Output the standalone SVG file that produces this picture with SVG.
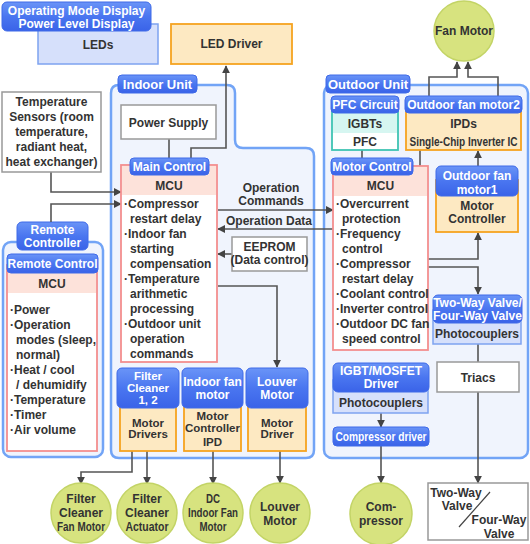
<svg xmlns="http://www.w3.org/2000/svg" width="530" height="544" viewBox="0 0 530 544">
<defs>
<linearGradient id="lg" x1="0" y1="0" x2="0" y2="1">
<stop offset="0" stop-color="#6a94f7"/>
<stop offset="0.5" stop-color="#4a76f0"/>
<stop offset="1" stop-color="#3a63e8"/>
</linearGradient>
<marker id="ah" viewBox="0 0 10 10" refX="9" refY="5" markerWidth="8" markerHeight="8" markerUnits="userSpaceOnUse" orient="auto">
<path d="M0,0 L10,5 L0,10 Z" fill="#444"/>
</marker>
<style>
text{font-family:"Liberation Sans",Arial,sans-serif;font-weight:bold;font-size:12px;fill:#333}
.c{text-anchor:middle}
.w{fill:#fff}
.u{font-size:13px}
.s{font-size:11.5px}
.lab{fill:url(#lg);stroke:#3f6ae8;stroke-width:1}
.cont{fill:#f0f4fd;stroke:#72a4f6;stroke-width:2.5}
.blue{fill:#d6e0fb;stroke:#7ea3f0;stroke-width:1.5}
.org{fill:#fde9c2;stroke:#f5a320;stroke-width:1.8}
.pink{fill:#fff;stroke:#f38e8e;stroke-width:1.8}
.ph{fill:#fde2da}
.gray{fill:#fff;stroke:#999;stroke-width:1.5}
.teal{fill:#fff;stroke:#3fc4b3;stroke-width:1.8}
.circ{fill:#d7e37f;stroke:#c3d466;stroke-width:1.5}
.con{fill:none;stroke:#555;stroke-width:1.6}
.arr{marker-end:url(#ah)}
</style>
</defs>

<!-- containers -->
<g id="indoor-unit">
<path class="cont" d="M119,85 H227 Q235,85 235,93 V140 Q235,148 243,148 H306 Q314,148 314,156 V450 Q314,458 306,458 H119 Q111,458 111,450 V93 Q111,85 119,85 Z"/>
<rect class="lab" x="118" y="75" width="79" height="18" rx="4"/>
<text class="w u c" x="157.5" y="88.5">Indoor Unit</text>
</g>
<g id="outdoor-unit">
<rect class="cont" x="324" y="85" width="204" height="373" rx="8"/>
<rect class="lab" x="326" y="75" width="84" height="18" rx="4"/>
<text class="w u c" x="368" y="88.5">Outdoor Unit</text>
</g>
<g id="remote-controller">
<rect class="cont" x="3" y="242" width="100" height="215" rx="8"/>
<rect class="lab" x="17" y="222" width="71" height="28" rx="5"/>
<text class="w c" x="52.5" y="234" font-size="12.5">Remote</text>
<text class="w c" x="52.5" y="247" font-size="12.5">Controller</text>
</g>

<!-- connectors -->
<g id="connectors">
<path class="con arr" d="M191,158 V148 H226 V66"/>
<path class="con" d="M169,139 V158"/>
<path class="con arr" d="M51,172 V192 H121"/>
<path class="con arr" d="M51,222 V204 H121"/>
<path class="con arr" d="M218,210 H333"/>
<path class="con arr" d="M333,229 H218"/>
<path class="con arr" d="M232,254 H218"/>
<path class="con arr" d="M218,286 H277 V367"/>
<path class="con arr" d="M132,451 V472 H81 V484"/>
<path class="con arr" d="M147,451 V484"/>
<path class="con arr" d="M213,451 V484"/>
<path class="con arr" d="M280,451 V483"/>
<path class="con arr" d="M429,97 V77 H457 V62"/>
<path class="con arr" d="M498,97 V77 H468 V62"/>
<path class="con" d="M362,150 V158"/>
<path class="con" d="M420,166 V150"/>
<path class="con arr" d="M478,166 V151"/>
<path class="con arr" d="M428,259 H478 V233"/>
<path class="con arr" d="M428,267 H478 V294"/>
<path class="con" d="M478,344 V362"/>
<path class="con arr" d="M478,392 V483"/>
<path class="con arr" d="M381,413 V427"/>
<path class="con arr" d="M381,446 V483"/>
</g>

<!-- top nodes -->
<g id="leds">
<rect class="blue" x="38" y="24" width="120" height="40"/>
<text class="c" x="98" y="49">LEDs</text>
</g>
<g id="op-mode-label">
<rect class="lab" x="2" y="2" width="149" height="29" rx="5"/>
<text class="w c" x="76.5" y="14.5">Operating Mode Display</text>
<text class="w c" x="76.5" y="27.5">Power Level Display</text>
</g>
<g id="led-driver">
<rect class="org" x="171" y="24" width="121" height="40"/>
<text class="c" x="231.5" y="48">LED Driver</text>
</g>
<g id="fan-motor">
<circle class="circ" cx="464" cy="31" r="30"/>
<text class="c" x="464" y="35">Fan Motor</text>
</g>
<g id="temp-sensors">
<rect class="gray" x="2" y="92" width="99" height="80"/>
<text class="c" x="51.5" y="106">Temperature</text>
<text class="c" x="51.5" y="121">Sensors (room</text>
<text class="c" x="51.5" y="136">temperature,</text>
<text class="c" x="51.5" y="151">radiant heat,</text>
<text class="c" x="51.5" y="166">heat exchanger)</text>
</g>

<!-- indoor nodes -->
<g id="power-supply">
<rect class="gray" x="121" y="105" width="95" height="34"/>
<text class="c" x="168.5" y="127">Power Supply</text>
</g>
<g id="main-control">
<rect class="pink" x="121" y="165" width="96" height="197"/>
<rect class="ph" x="122" y="166" width="94" height="29"/>
<rect class="lab" x="130" y="158" width="79" height="17" rx="4"/>
<text class="w c" x="169.5" y="171">Main Control</text>
<text class="c" x="169" y="189.5">MCU</text>
<text x="124" y="208">·Compressor</text>
<text x="130" y="223">restart delay</text>
<text x="124" y="238">·Indoor fan</text>
<text x="130" y="253">starting</text>
<text x="130" y="268">compensation</text>
<text x="124" y="283">·Temperature</text>
<text x="130" y="298">arithmetic</text>
<text x="130" y="313">processing</text>
<text x="124" y="328">·Outdoor unit</text>
<text x="130" y="343">operation</text>
<text x="130" y="358">commands</text>
</g>
<g id="op-labels">
<text class="c" x="271" y="192">Operation</text>
<text class="c" x="271" y="205">Commands</text>
<text class="c" x="269" y="225">Operation Data</text>
</g>
<g id="eeprom">
<rect class="gray" x="232" y="237" width="75" height="34"/>
<text class="c" x="269.5" y="250.5">EEPROM</text>
<text class="c" x="269.5" y="264">(Data control)</text>
</g>
<g id="filter-cleaner">
<rect class="org" x="120" y="400" width="56" height="51"/>
<rect class="lab" x="117" y="368" width="62" height="40" rx="5"/>
<text class="w c s" x="148" y="380">Filter</text>
<text class="w c s" x="148" y="392">Cleaner</text>
<text class="w c s" x="148" y="404">1, 2</text>
<text class="c s" x="148" y="426.5">Motor</text>
<text class="c s" x="148" y="438">Drivers</text>
</g>
<g id="indoor-fan-motor">
<rect class="org" x="184" y="400" width="57" height="51"/>
<rect class="lab" x="182" y="368" width="61" height="40" rx="5"/>
<text class="w c" x="212.5" y="385.5">Indoor fan</text>
<text class="w c" x="212.5" y="398.5">motor</text>
<text class="c s" x="212.5" y="420">Motor</text>
<text class="c s" x="212.5" y="431.5">Controller</text>
<text class="c s" x="212.5" y="446">IPD</text>
</g>
<g id="louver-motor">
<rect class="org" x="248" y="400" width="58" height="51"/>
<rect class="lab" x="246" y="368" width="62" height="40" rx="5"/>
<text class="w c" x="277" y="385.5">Louver</text>
<text class="w c" x="277" y="398.5">Motor</text>
<text class="c s" x="277" y="426.5">Motor</text>
<text class="c s" x="277" y="438">Driver</text>
</g>

<!-- remote -->
<g id="remote-control">
<rect class="pink" x="7" y="265" width="90" height="186"/>
<rect class="ph" x="8" y="266" width="88" height="27"/>
<rect class="lab" x="7" y="254" width="91" height="19" rx="4"/>
<text class="w c" x="52.5" y="268" font-size="11.5">Remote Control</text>
<text class="c" x="52" y="287.5">MCU</text>
<text x="10" y="314">·Power</text>
<text x="10" y="329">·Operation</text>
<text x="16" y="344">modes (sleep,</text>
<text x="16" y="359">normal)</text>
<text x="10" y="374">·Heat / cool</text>
<text x="16" y="389">/ dehumidify</text>
<text x="10" y="404">·Temperature</text>
<text x="10" y="419">·Timer</text>
<text x="10" y="434">·Air volume</text>
</g>

<!-- outdoor nodes -->
<g id="pfc-circuit">
<rect class="teal" x="332" y="105" width="66" height="45"/>
<rect x="333" y="112" width="64" height="21" fill="#d6f6f1"/>
<rect class="lab" x="331" y="96" width="68" height="17" rx="4"/>
<text class="w c" x="365" y="109">PFC Circuit</text>
<text class="c" x="365" y="127.5">IGBTs</text>
<text class="c" x="365" y="146">PFC</text>
</g>
<g id="outdoor-fan-motor2">
<rect class="org" x="406" y="105" width="115" height="45" fill="#fff"/>
<rect x="407" y="112" width="113" height="21" fill="#fde9c2"/>
<rect class="lab" x="405" y="96" width="117" height="17" rx="4"/>
<text class="w c" x="463.5" y="109">Outdoor fan motor2</text>
<text class="c" x="463.5" y="127.5">IPDs</text>
<text class="c" x="463.5" y="145.5" font-size="11" textLength="108" lengthAdjust="spacingAndGlyphs">Single-Chip Inverter IC</text>
</g>
<g id="motor-control">
<rect class="pink" x="333" y="166" width="95" height="184"/>
<rect class="ph" x="334" y="167" width="93" height="29"/>
<rect class="lab" x="331" y="158" width="82" height="17" rx="4"/>
<text class="w c" x="372" y="171">Motor Control</text>
<text class="c" x="380.5" y="189.5">MCU</text>
<text x="336" y="208">·Overcurrent</text>
<text x="342" y="223">protection</text>
<text x="336" y="238">·Frequency</text>
<text x="342" y="253">control</text>
<text x="336" y="268">·Compressor</text>
<text x="342" y="283">restart delay</text>
<text x="336" y="298">·Coolant control</text>
<text x="336" y="313">·Inverter control</text>
<text x="336" y="328">·Outdoor DC fan</text>
<text x="342" y="343">speed control</text>
</g>
<g id="outdoor-fan-motor1">
<rect class="org" x="436" y="180" width="82" height="52"/>
<rect class="lab" x="436" y="166" width="82" height="30" rx="5"/>
<text class="w c" x="477" y="180">Outdoor fan</text>
<text class="w c" x="477" y="193.5">motor1</text>
<text class="c" x="477" y="210">Motor</text>
<text class="c" x="477" y="223">Controller</text>
</g>
<g id="valve-photocouplers">
<rect class="blue" x="433" y="310" width="88" height="34"/>
<rect class="lab" x="433" y="295" width="89" height="28" rx="5"/>
<text class="w c" x="477.5" y="307">Two-Way Valve/</text>
<text class="w c" x="477.5" y="320">Four-Way Valve</text>
<text class="c" x="477" y="338">Photocouplers</text>
</g>
<g id="triacs">
<rect class="gray" x="437" y="362" width="82" height="30"/>
<text class="c" x="478" y="382">Triacs</text>
</g>
<g id="igbt-driver">
<rect class="blue" x="333" y="380" width="95" height="33"/>
<rect class="lab" x="333" y="363" width="96" height="29" rx="5"/>
<text class="w c" x="381" y="375">IGBT/MOSFET</text>
<text class="w c" x="381" y="388">Driver</text>
<text class="c" x="381" y="406.5">Photocouplers</text>
</g>
<g id="compressor-driver">
<rect class="lab" x="333" y="427" width="96" height="19" rx="4"/>
<text class="w c" x="381" y="441" textLength="91" lengthAdjust="spacingAndGlyphs">Compressor driver</text>
</g>

<!-- bottom nodes -->
<g id="filter-fan-motor">
<circle class="circ" cx="81" cy="513" r="30"/>
<text class="c" x="81" y="503">Filter</text>
<text class="c" x="81" y="517">Cleaner</text>
<text class="c" x="81" y="531" textLength="48" lengthAdjust="spacingAndGlyphs">Fan Motor</text>
</g>
<g id="filter-actuator">
<circle class="circ" cx="147" cy="513" r="30"/>
<text class="c" x="147" y="503">Filter</text>
<text class="c" x="147" y="517">Cleaner</text>
<text class="c" x="147" y="531" textLength="43" lengthAdjust="spacingAndGlyphs">Actuator</text>
</g>
<g id="dc-indoor-fan-motor">
<circle class="circ" cx="213" cy="513" r="30"/>
<text class="c" x="213" y="503" textLength="14" lengthAdjust="spacingAndGlyphs">DC</text>
<text class="c" x="213" y="517" textLength="50" lengthAdjust="spacingAndGlyphs">Indoor Fan</text>
<text class="c" x="213" y="531" textLength="27" lengthAdjust="spacingAndGlyphs">Motor</text>
</g>
<g id="louver-motor-circle">
<circle class="circ" cx="280" cy="513" r="30"/>
<text class="c" x="280" y="511">Louver</text>
<text class="c" x="280" y="525">Motor</text>
</g>
<g id="compressor">
<circle class="circ" cx="381" cy="514" r="31"/>
<text class="c" x="381" y="511">Com-</text>
<text class="c" x="381" y="525">pressor</text>
</g>
<g id="valve-box">
<rect class="gray" x="428" y="483" width="100" height="57"/>
<line x1="490" y1="492" x2="459" y2="527" stroke="#444" stroke-width="1.2"/>
<text class="c" x="456" y="497">Two-Way</text>
<text class="c" x="457" y="510">Valve</text>
<text class="c" x="499" y="524">Four-Way</text>
<text class="c" x="499" y="538">Valve</text>
</g>
</svg>
